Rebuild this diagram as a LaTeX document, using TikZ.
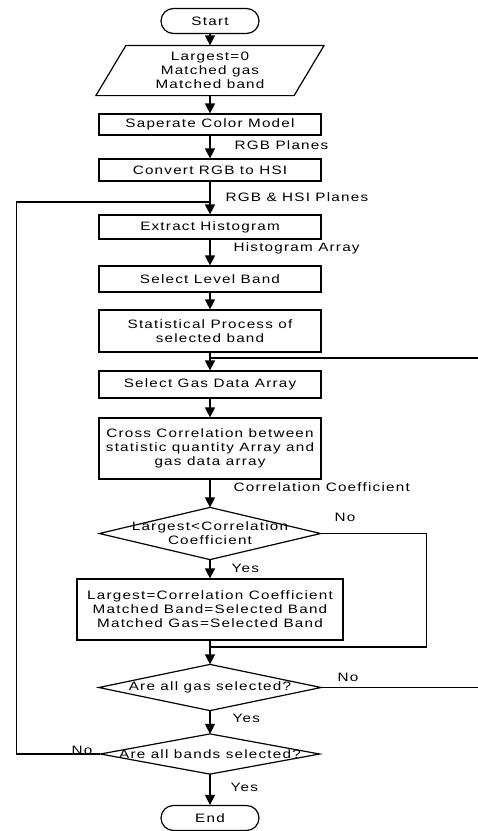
\documentclass[tikz,border=0pt]{standalone}
\usepackage{fontspec}
\setmainfont{Liberation Sans}[FakeStretch=1.25, LetterSpace=10]
\usetikzlibrary{calc, arrows.meta}

\begin{document}
\begin{tikzpicture}[x=1pt, y=-1pt, line width=1.2pt,
    font=\fontsize{12.2}{14}\selectfont,
    flow/.style={-{Triangle[width=10pt,length=10pt]}},
    procbox/.style={draw, minimum width=222, inner sep=0pt, align=center},
    termbox/.style={draw, rounded corners=12.5pt, minimum width=98, minimum height=25, inner sep=0pt},
    decbox/.style={inner sep=0pt, minimum width=220, align=center},
    lbl/.style={anchor=west, inner sep=0pt}]
    \useasboundingbox (0,0) rectangle (478,831);
    \def\ax{210}
    % main column
    \node[termbox] (start) at (\ax,21) {Start};
    \node[decbox, minimum width=227, minimum height=49] (init) at (\ax,70.5) {Largest=0\\Matched gas\\Matched band};
    \draw (init.south west) -- ($(init.north west)+(30,0)$) -- (init.north east) -- ($(init.south east)-(30,0)$) -- cycle;
    \node[procbox, minimum height=21] (sep) at (\ax,124.5) {Saperate Color Model};
    \node[procbox, minimum height=22] (conv) at (\ax,170) {Convert RGB to HSI};
    \node[procbox, minimum height=24] (hist) at (\ax,227) {Extract Histogram};
    \node[procbox, minimum height=26] (band) at (\ax,279) {Select Level Band};
    \node[procbox, minimum height=42] (stat) at (\ax,331) {Statistical Process of\\selected band};
    \node[procbox, minimum height=27] (gas) at (\ax,384.5) {Select Gas Data Array};
    \node[procbox, minimum height=61] (cross) at (\ax,448.5) {Cross Correlation between\\statistic quantity Array and\\gas data array};
    \node[decbox, minimum height=51] (d1) at (\ax,533.5) {Largest<Correlation\\Coefficient};
    \node[procbox, minimum width=266, minimum height=61] (upd) at (\ax,609.5) {Largest=Correlation Coefficient\\Matched Band=Selected Band\\Matched Gas=Selected Band};
    \node[decbox, minimum width=221, minimum height=45] (d2) at (\ax,687.5) {Are all gas selected?};
    \node[decbox, minimum width=218, minimum height=39] (d3) at (\ax,754) {Are all bands selected?};
    \node[termbox] (end) at (\ax,818) {End};
    \foreach \d in {d1,d2,d3}
        \draw (\d.west) -- (\d.north) -- (\d.east) -- (\d.south) -- cycle;
    % arrows down
    \draw[flow] (start) -- (init);
    \draw[flow] (init) -- (sep);
    \draw[flow] (sep) -- (conv);
    \draw[flow] (conv) -- (hist);
    \draw[flow] (hist) -- (band);
    \draw[flow] (band) -- (stat);
    \draw[flow] (stat) -- (gas);
    \draw[flow] (gas) -- (cross);
    \draw[flow] (cross) -- (d1);
    \draw[flow] (d1) -- (upd);
    \draw[flow] (upd) -- (d2);
    \draw[flow] (d2) -- (d3);
    \draw[flow] (d3) -- (end);
    % loops back
    \coordinate (jhist) at (\ax,202);
    \coordinate (jgas) at (\ax,358);
    \coordinate (jd2) at (\ax,647);
    \draw (d1.east) -- ++(106,0) |- (jd2);
    \draw (d2.east) -- ++(170,0) |- (jgas);
    \draw (d3.west) -- ++(-84,0) |- (jhist);
    % labels
    \node[lbl] (lrgb) at (234,145) {RGB Planes};
    \node[lbl] (lrgbhsi) at (225,197) {RGB \& HSI Planes};
    \node[lbl] (lhist) at (233,248) {Histogram Array};
    \node[lbl] (lcorr) at (233,487) {Correlation Coefficient};
    \node (no1) at (345,517) {No};
    \node[lbl] (yes1) at (231,568) {Yes};
    \node (no2) at (348,677) {No};
    \node[lbl] (yes2) at (232,718) {Yes};
    \node (no3) at (82,750) {No};
    \node[lbl] (yes3) at (230,787) {Yes};
\end{tikzpicture}
\end{document}
